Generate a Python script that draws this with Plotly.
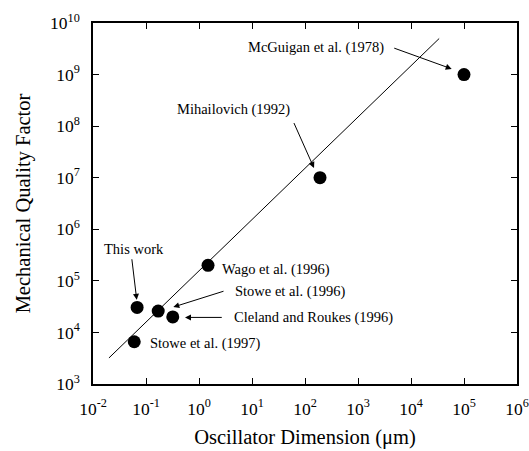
import plotly.graph_objects as go

# Data
labels = ["This work", "Stowe et al. (1996)", "Cleland and Roukes (1996)",
          "Stowe et al. (1997)", "Wago et al. (1996)", "Mihailovich (1992)",
          "McGuigan et al. (1978)"]
dimension_um = [0.068, 0.17, 0.32, 0.06, 1.48, 192, 1.0e5]
quality_factor = [3.05e4, 2.6e4, 2.0e4, 6.6e3, 2.0e5, 1.0e7, 1.0e9]

fit_x = [0.02, 3.4e4]
fit_y = [3.2e3, 5.0e9]

x_tick_exp = list(range(-2, 7))
y_tick_exp = list(range(3, 11))

FONT = "Liberation Serif, Times New Roman, serif"

fig = go.Figure()
fig.add_trace(go.Scatter(x=fit_x, y=fit_y, mode="lines",
                         line=dict(color="black", width=1), showlegend=False))
fig.add_trace(go.Scatter(x=dimension_um, y=quality_factor, mode="markers",
                         marker=dict(color="black", size=13), showlegend=False))

# text labels (log10 positions, left-anchored)
text_pos = {
    "McGuigan et al. (1978)": (0.887, 9.517),
    "Mihailovich (1992)": (-0.453, 8.316),
    "This work": (-1.836, 5.622),
    "Wago et al. (1996)": (0.396, 5.229),
    "Stowe et al. (1996)": (0.647, 4.795),
    "Cleland and Roukes (1996)": (0.617, 4.291),
    "Stowe et al. (1997)": (-0.968, 3.795),
}
# arrows: (tail_x, tail_y, tip_x, tip_y) in log10 units
arrows = [
    (3.655, 9.523, 4.768, 9.110),
    (1.779, 8.089, 2.170, 7.188),
    (-1.270, 5.448, -1.175, 4.634),
    (0.491, 4.808, -0.485, 4.492),
    (0.458, 4.291, -0.264, 4.291),
]

annotations = []
for t, (lx, ly) in text_pos.items():
    annotations.append(dict(x=lx, y=ly, xref="x", yref="y", text=t,
                            showarrow=False, xanchor="left", yanchor="middle",
                            font=dict(family=FONT, size=14.5, color="black")))
for (tx, ty, hx, hy) in arrows:
    annotations.append(dict(x=hx, y=hy, ax=tx, ay=ty, xref="x", yref="y",
                            axref="x", ayref="y", text="", showarrow=True,
                            arrowhead=2, arrowsize=1.2, arrowwidth=1,
                            arrowcolor="black"))


def minor_vals(exps):
    return [k * 10 ** e for e in exps[:-1] for k in range(2, 10)]


axis_common = dict(type="log", showgrid=False, zeroline=False, showline=True,
                   linecolor="black", linewidth=1.5, mirror="allticks",
                   ticks="inside", ticklen=6, tickwidth=1, tickcolor="black",
                   tickmode="array", ticklabelstandoff=8, automargin=False,
                   tickfont=dict(family=FONT, size=17.5, color="black"))

minor_common = dict(type="log", showgrid=False, zeroline=False, showline=False,
                    mirror="allticks", ticks="inside", ticklen=3, tickwidth=1,
                    tickcolor="black", tickmode="array", showticklabels=False,
                    automargin=False)

fig.update_layout(
    xaxis=dict(**axis_common, range=[-2, 6],
               tickvals=[10 ** e for e in x_tick_exp],
               ticktext=[f"10<sup>{e}</sup>" for e in x_tick_exp],
               title=dict(text="Oscillator Dimension (\u03bcm)", standoff=12,
                          font=dict(family=FONT, size=20.5, color="black"))),
    yaxis=dict(**axis_common, range=[3, 10],
               tickvals=[10 ** e for e in y_tick_exp],
               ticktext=[f"10<sup>{e}</sup>" for e in y_tick_exp],
               title=dict(text="Mechanical Quality Factor", standoff=14,
                          font=dict(family=FONT, size=20.5, color="black"))),
    # overlay axes used only to draw the minor (2..9) ticks
    xaxis2=dict(**minor_common, overlaying="x", anchor="y", side="bottom",
                range=[-2, 6], tickvals=minor_vals(x_tick_exp)),
    yaxis2=dict(**minor_common, overlaying="y", anchor="x", side="left",
                range=[3, 10], tickvals=minor_vals(y_tick_exp)),
)

fig.update_layout(width=529, height=451,
                  margin=dict(l=93, r=12, t=23, b=67),
                  plot_bgcolor="white", paper_bgcolor="white",
                  annotations=annotations)

fig.write_html("out.html")
